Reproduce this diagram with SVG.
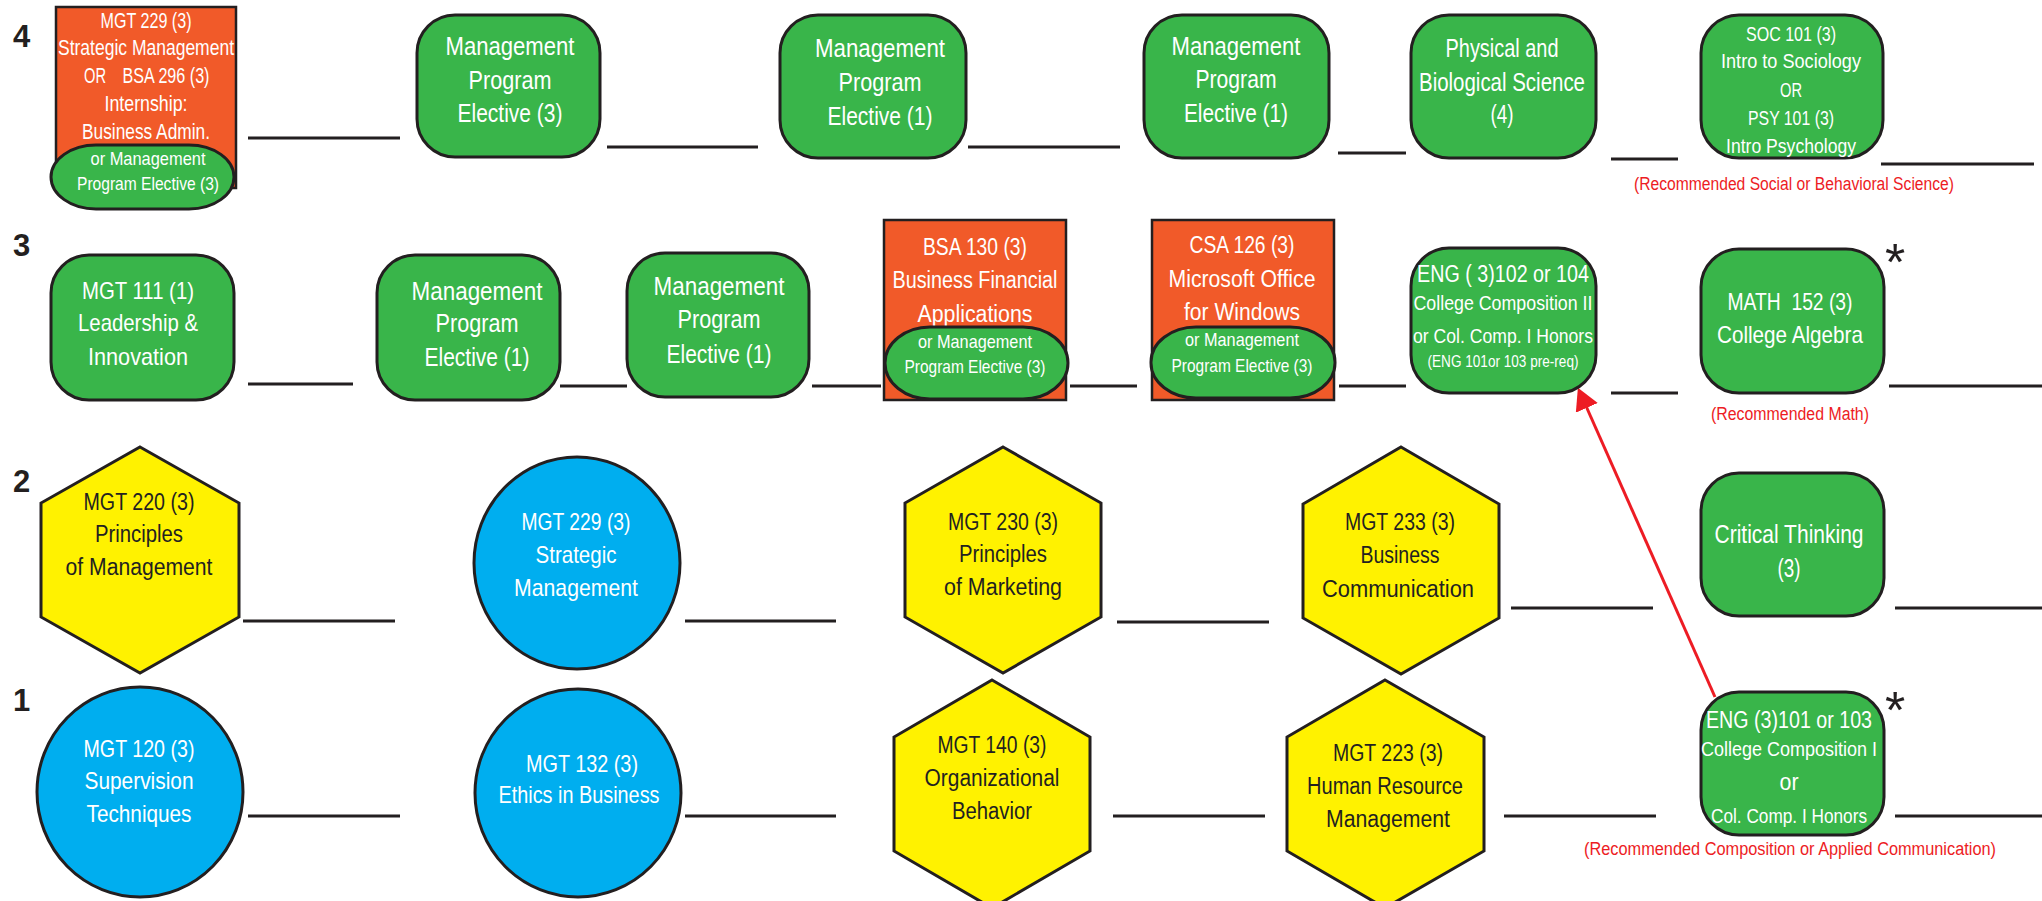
<svg xmlns="http://www.w3.org/2000/svg" width="2042" height="901" viewBox="0 0 2042 901">
<defs>
<style>
.g{fill:#39b54a;stroke:#231f20;stroke-width:3}
.o{fill:#f15a29;stroke:#231f20;stroke-width:2.5}
.y{fill:#fff200;stroke:#231f20;stroke-width:3}
.b{fill:#00aeef;stroke:#231f20;stroke-width:3}
text{font-family:"Liberation Sans",Arial,sans-serif;text-anchor:middle}
.w{fill:#ffffff}
.k{fill:#231f20}
.r{fill:#ed1c24;font-size:18px}
.num{font-family:"Liberation Sans",Arial,sans-serif;font-weight:bold;font-size:31px;fill:#231f20;text-anchor:start}
.ast{font-size:52px;fill:#231f20}
.c line{stroke:#231f20;stroke-width:3}
</style>
<marker id="arr" viewBox="0 0 22 24" refX="2" refY="12" markerWidth="22" markerHeight="24" markerUnits="userSpaceOnUse" orient="auto">
<path d="M0,0 L22,12 L0,24 z" fill="#ed1c24"/>
</marker>
</defs>
<rect width="2042" height="901" fill="#ffffff"/>

<g id="row-labels">
<text class="num" x="13" y="47">4</text>
<text class="num" x="13" y="256">3</text>
<text class="num" x="13" y="492">2</text>
<text class="num" x="13" y="711">1</text>
</g>

<g id="connectors" class="c">
<line x1="248" y1="138" x2="400" y2="138"/>
<line x1="607" y1="147" x2="758" y2="147"/>
<line x1="968" y1="147" x2="1120" y2="147"/>
<line x1="1338" y1="153" x2="1406" y2="153"/>
<line x1="1611" y1="159" x2="1678" y2="159"/>
<line x1="1881" y1="164" x2="2034" y2="164"/>
<line x1="248" y1="384" x2="353" y2="384"/>
<line x1="560" y1="386" x2="627" y2="386"/>
<line x1="812" y1="386" x2="881" y2="386"/>
<line x1="1070" y1="386" x2="1137" y2="386"/>
<line x1="1339" y1="386" x2="1406" y2="386"/>
<line x1="1611" y1="393" x2="1678" y2="393"/>
<line x1="1889" y1="386" x2="2042" y2="386"/>
<line x1="243" y1="621" x2="395" y2="621"/>
<line x1="685" y1="621" x2="836" y2="621"/>
<line x1="1117" y1="622" x2="1269" y2="622"/>
<line x1="1511" y1="608" x2="1653" y2="608"/>
<line x1="1895" y1="608" x2="2042" y2="608"/>
<line x1="248" y1="816" x2="400" y2="816"/>
<line x1="685" y1="816" x2="836" y2="816"/>
<line x1="1113" y1="816" x2="1265" y2="816"/>
<line x1="1504" y1="816" x2="1656" y2="816"/>
<line x1="1895" y1="816" x2="2042" y2="816"/>
<line x1="1715" y1="697" x2="1586" y2="406" style="stroke:#ed1c24;stroke-width:3" marker-end="url(#arr)"/>
</g>

<g id="n-mgt229-bsa296">
<rect class="o" x="56" y="7" width="180" height="181"/>
<g class="w" font-size="21.5">
<text x="146" y="28" textLength="91" lengthAdjust="spacingAndGlyphs">MGT 229 (3)</text>
<text x="146" y="55" textLength="176" lengthAdjust="spacingAndGlyphs">Strategic Management</text>
<text y="83"><tspan x="95" textLength="22" lengthAdjust="spacingAndGlyphs">OR</tspan><tspan x="166" textLength="87" lengthAdjust="spacingAndGlyphs">BSA 296 (3)</tspan></text>
<text x="146" y="111" textLength="83" lengthAdjust="spacingAndGlyphs">Internship:</text>
<text x="146" y="139" textLength="128" lengthAdjust="spacingAndGlyphs">Business Admin.</text>
</g>
<rect class="g" x="51" y="145" width="183" height="64" rx="45" ry="32"/>
<g class="w" font-size="19">
<text x="148" y="165" textLength="115" lengthAdjust="spacingAndGlyphs">or Management</text>
<text x="148" y="190" textLength="142" lengthAdjust="spacingAndGlyphs">Program Elective (3)</text>
</g>
</g>

<g id="n-mpe3-r4">
<rect class="g" x="417" y="15" width="183" height="142" rx="38"/>
<g class="w" font-size="25">
<text x="510" y="55" textLength="129" lengthAdjust="spacingAndGlyphs">Management</text>
<text x="510" y="89" textLength="83" lengthAdjust="spacingAndGlyphs">Program</text>
<text x="510" y="122" textLength="105" lengthAdjust="spacingAndGlyphs">Elective (3)</text>
</g>
</g>

<g id="n-mpe1a-r4">
<rect class="g" x="780" y="15" width="186" height="143" rx="38"/>
<g class="w" font-size="25">
<text x="880" y="57" textLength="130" lengthAdjust="spacingAndGlyphs">Management</text>
<text x="880" y="91" textLength="83" lengthAdjust="spacingAndGlyphs">Program</text>
<text x="880" y="125" textLength="105" lengthAdjust="spacingAndGlyphs">Elective (1)</text>
</g>
</g>

<g id="n-mpe1b-r4">
<rect class="g" x="1144" y="15" width="185" height="143" rx="38"/>
<g class="w" font-size="25">
<text x="1236" y="55" textLength="129" lengthAdjust="spacingAndGlyphs">Management</text>
<text x="1236" y="88" textLength="81" lengthAdjust="spacingAndGlyphs">Program</text>
<text x="1236" y="122" textLength="104" lengthAdjust="spacingAndGlyphs">Elective (1)</text>
</g>
</g>

<g id="n-physbio">
<rect class="g" x="1411" y="15" width="185" height="143" rx="38"/>
<g class="w" font-size="25">
<text x="1502" y="57" textLength="113" lengthAdjust="spacingAndGlyphs">Physical and</text>
<text x="1502" y="91" textLength="166" lengthAdjust="spacingAndGlyphs">Biological Science</text>
<text x="1502" y="123" textLength="23" lengthAdjust="spacingAndGlyphs">(4)</text>
</g>
</g>

<g id="n-soc-psy">
<rect class="g" x="1701" y="15" width="182" height="143" rx="38"/>
<g class="w" font-size="19.5">
<text x="1791" y="41" textLength="90" lengthAdjust="spacingAndGlyphs">SOC 101 (3)</text>
<text x="1791" y="68" textLength="140" lengthAdjust="spacingAndGlyphs">Intro to Sociology</text>
<text x="1791" y="97" textLength="22" lengthAdjust="spacingAndGlyphs">OR</text>
<text x="1791" y="125" textLength="86" lengthAdjust="spacingAndGlyphs">PSY 101 (3)</text>
<text x="1791" y="153" textLength="130" lengthAdjust="spacingAndGlyphs">Intro Psychology</text>
</g>
<text class="r" x="1794" y="190" textLength="320" lengthAdjust="spacingAndGlyphs">(Recommended Social or Behavioral Science)</text>
</g>

<g id="n-mgt111">
<rect class="g" x="51" y="255" width="183" height="145" rx="38"/>
<g class="w" font-size="24">
<text x="138" y="299" textLength="112" lengthAdjust="spacingAndGlyphs">MGT 111 (1)</text>
<text x="138" y="331" textLength="120" lengthAdjust="spacingAndGlyphs">Leadership &amp;</text>
<text x="138" y="365" textLength="100" lengthAdjust="spacingAndGlyphs">Innovation</text>
</g>
</g>

<g id="n-mpe1a-r3">
<rect class="g" x="377" y="255" width="183" height="145" rx="38"/>
<g class="w" font-size="25">
<text x="477" y="300" textLength="131" lengthAdjust="spacingAndGlyphs">Management</text>
<text x="477" y="332" textLength="83" lengthAdjust="spacingAndGlyphs">Program</text>
<text x="477" y="366" textLength="105" lengthAdjust="spacingAndGlyphs">Elective (1)</text>
</g>
</g>

<g id="n-mpe1b-r3">
<rect class="g" x="627" y="253" width="182" height="144" rx="38"/>
<g class="w" font-size="25">
<text x="719" y="295" textLength="131" lengthAdjust="spacingAndGlyphs">Management</text>
<text x="719" y="328" textLength="83" lengthAdjust="spacingAndGlyphs">Program</text>
<text x="719" y="363" textLength="105" lengthAdjust="spacingAndGlyphs">Elective (1)</text>
</g>
</g>

<g id="n-bsa130">
<rect class="o" x="884" y="220" width="182" height="180"/>
<g class="w" font-size="23">
<text x="975" y="255" textLength="104" lengthAdjust="spacingAndGlyphs">BSA 130 (3)</text>
<text x="975" y="288" textLength="165" lengthAdjust="spacingAndGlyphs">Business Financial</text>
<text x="975" y="322" textLength="115" lengthAdjust="spacingAndGlyphs">Applications</text>
</g>
<rect class="g" x="885" y="327" width="183" height="72" rx="45" ry="36"/>
<g class="w" font-size="19">
<text x="975" y="348" textLength="114" lengthAdjust="spacingAndGlyphs">or Management</text>
<text x="975" y="373" textLength="141" lengthAdjust="spacingAndGlyphs">Program Elective (3)</text>
</g>
</g>

<g id="n-csa126">
<rect class="o" x="1152" y="220" width="182" height="180"/>
<g class="w" font-size="23">
<text x="1242" y="253" textLength="105" lengthAdjust="spacingAndGlyphs">CSA 126 (3)</text>
<text x="1242" y="287" textLength="147" lengthAdjust="spacingAndGlyphs">Microsoft Office</text>
<text x="1242" y="320" textLength="116" lengthAdjust="spacingAndGlyphs">for Windows</text>
</g>
<rect class="g" x="1151" y="327" width="184" height="71" rx="45" ry="35"/>
<g class="w" font-size="19">
<text x="1242" y="346" textLength="114" lengthAdjust="spacingAndGlyphs">or Management</text>
<text x="1242" y="372" textLength="141" lengthAdjust="spacingAndGlyphs">Program Elective (3)</text>
</g>
</g>

<g id="n-eng102">
<rect class="g" x="1411" y="248" width="185" height="145" rx="38"/>
<g class="w">
<text x="1503" y="282" font-size="23" textLength="172" lengthAdjust="spacingAndGlyphs" xml:space="preserve">ENG ( 3)102 or 104</text>
<text x="1503" y="310" font-size="21" textLength="179" lengthAdjust="spacingAndGlyphs">College Composition II</text>
<text x="1503" y="343" font-size="21" textLength="180" lengthAdjust="spacingAndGlyphs">or Col. Comp. I Honors</text>
<text x="1503" y="367" font-size="16" textLength="151" lengthAdjust="spacingAndGlyphs">(ENG 101or 103 pre-req)</text>
</g>
</g>

<g id="n-math152">
<rect class="g" x="1701" y="249" width="183" height="144" rx="38"/>
<g class="w" font-size="24">
<text x="1790" y="310" textLength="125" lengthAdjust="spacingAndGlyphs" xml:space="preserve">MATH  152 (3)</text>
<text x="1790" y="343" textLength="146" lengthAdjust="spacingAndGlyphs">College Algebra</text>
</g>
<text class="ast" x="1895" y="280">*</text>
<text class="r" x="1790" y="420" textLength="158" lengthAdjust="spacingAndGlyphs">(Recommended Math)</text>
</g>

<g id="n-mgt220">
<polygon class="y" points="140,447 239,503 239,617 140,673 41,617 41,503"/>
<g class="k" font-size="23">
<text x="139" y="510" textLength="111" lengthAdjust="spacingAndGlyphs">MGT 220 (3)</text>
<text x="139" y="542" textLength="88" lengthAdjust="spacingAndGlyphs">Principles</text>
<text x="139" y="575" textLength="147" lengthAdjust="spacingAndGlyphs">of Management</text>
</g>
</g>

<g id="n-mgt229">
<ellipse class="b" cx="577" cy="563" rx="103" ry="106"/>
<g class="w" font-size="24">
<text x="576" y="530" textLength="109" lengthAdjust="spacingAndGlyphs">MGT 229 (3)</text>
<text x="576" y="563" textLength="81" lengthAdjust="spacingAndGlyphs">Strategic</text>
<text x="576" y="596" textLength="124" lengthAdjust="spacingAndGlyphs">Management</text>
</g>
</g>

<g id="n-mgt230">
<polygon class="y" points="1003,447 1101,503 1101,617 1003,673 905,617 905,503"/>
<g class="k" font-size="23">
<text x="1003" y="530" textLength="110" lengthAdjust="spacingAndGlyphs">MGT 230 (3)</text>
<text x="1003" y="562" textLength="88" lengthAdjust="spacingAndGlyphs">Principles</text>
<text x="1003" y="595" textLength="118" lengthAdjust="spacingAndGlyphs">of Marketing</text>
</g>
</g>

<g id="n-mgt233">
<polygon class="y" points="1401,447 1499,504 1499,618 1401,674 1303,618 1303,504"/>
<g class="k" font-size="23">
<text x="1400" y="530" textLength="110" lengthAdjust="spacingAndGlyphs">MGT 233 (3)</text>
<text x="1400" y="563" textLength="79" lengthAdjust="spacingAndGlyphs">Business</text>
<text x="1398" y="597" textLength="152" lengthAdjust="spacingAndGlyphs">Communication</text>
</g>
</g>

<g id="n-critical">
<rect class="g" x="1701" y="473" width="183" height="143" rx="38"/>
<g class="w" font-size="25">
<text x="1789" y="543" textLength="149" lengthAdjust="spacingAndGlyphs">Critical Thinking</text>
<text x="1789" y="577" textLength="23" lengthAdjust="spacingAndGlyphs">(3)</text>
</g>
</g>

<g id="n-mgt120">
<ellipse class="b" cx="140" cy="792" rx="103" ry="105"/>
<g class="w" font-size="24">
<text x="139" y="757" textLength="111" lengthAdjust="spacingAndGlyphs">MGT 120 (3)</text>
<text x="139" y="789" textLength="109" lengthAdjust="spacingAndGlyphs">Supervision</text>
<text x="139" y="822" textLength="105" lengthAdjust="spacingAndGlyphs">Techniques</text>
</g>
</g>

<g id="n-mgt132">
<ellipse class="b" cx="578" cy="793" rx="103" ry="104"/>
<g class="w" font-size="24">
<text x="582" y="772" textLength="112" lengthAdjust="spacingAndGlyphs">MGT 132 (3)</text>
<text x="579" y="803" textLength="161" lengthAdjust="spacingAndGlyphs">Ethics in Business</text>
</g>
</g>

<g id="n-mgt140">
<polygon class="y" points="992,680 1090,737 1090,851 992,908 894,851 894,737"/>
<g class="k" font-size="23">
<text x="992" y="753" textLength="109" lengthAdjust="spacingAndGlyphs">MGT 140 (3)</text>
<text x="992" y="786" textLength="135" lengthAdjust="spacingAndGlyphs">Organizational</text>
<text x="992" y="819" textLength="80" lengthAdjust="spacingAndGlyphs">Behavior</text>
</g>
</g>

<g id="n-mgt223">
<polygon class="y" points="1385,680 1484,737 1484,851 1385,908 1287,851 1287,737"/>
<g class="k" font-size="23">
<text x="1388" y="761" textLength="110" lengthAdjust="spacingAndGlyphs">MGT 223 (3)</text>
<text x="1385" y="794" textLength="156" lengthAdjust="spacingAndGlyphs">Human Resource</text>
<text x="1388" y="827" textLength="124" lengthAdjust="spacingAndGlyphs">Management</text>
</g>
</g>

<g id="n-eng101">
<rect class="g" x="1701" y="692" width="183" height="143" rx="38"/>
<g class="w">
<text x="1789" y="728" font-size="23" textLength="166" lengthAdjust="spacingAndGlyphs">ENG (3)101 or 103</text>
<text x="1789" y="756" font-size="21" textLength="176" lengthAdjust="spacingAndGlyphs">College Composition I</text>
<text x="1789" y="790" font-size="24" textLength="19" lengthAdjust="spacingAndGlyphs">or</text>
<text x="1789" y="823" font-size="21" textLength="156" lengthAdjust="spacingAndGlyphs">Col. Comp. I Honors</text>
</g>
<text class="ast" x="1895" y="728">*</text>
<text class="r" x="1790" y="855" textLength="412" lengthAdjust="spacingAndGlyphs">(Recommended Composition or Applied Communication)</text>
</g>
</svg>
